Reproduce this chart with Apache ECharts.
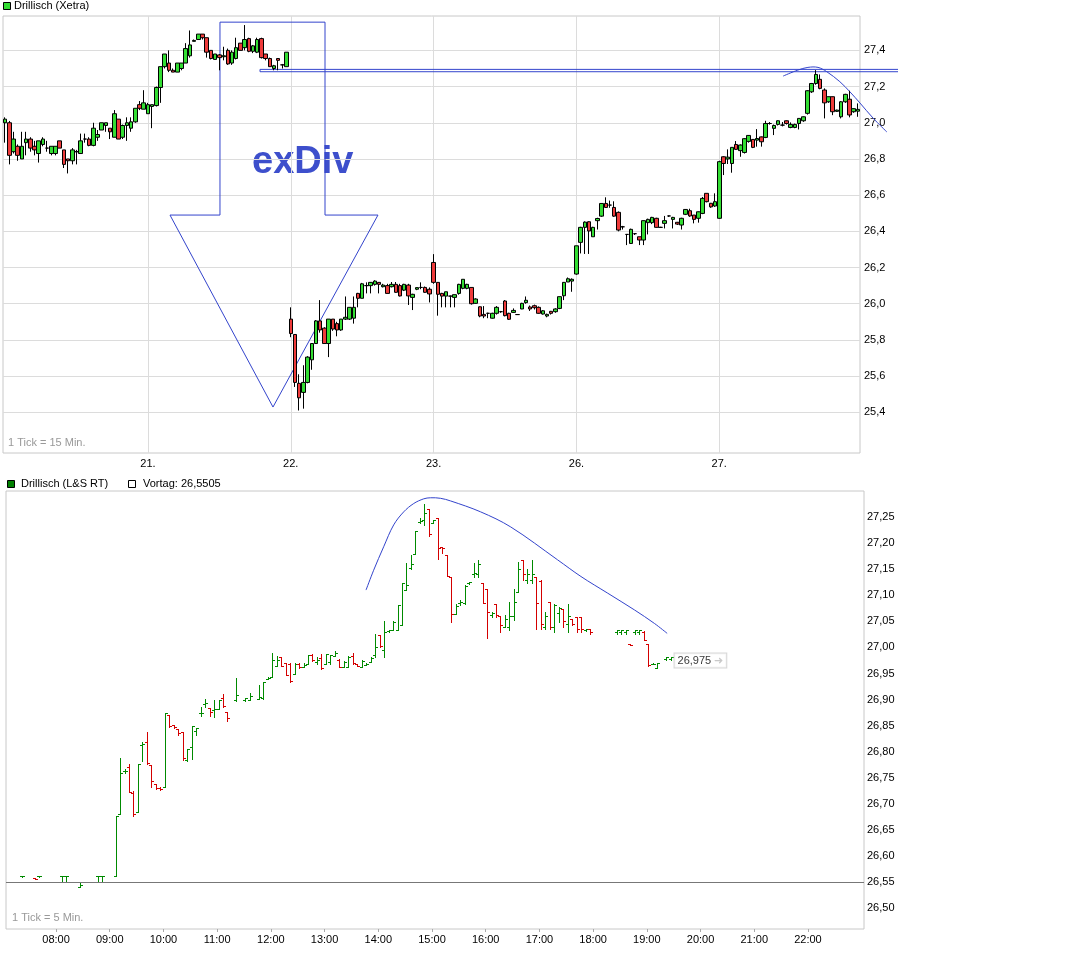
<!DOCTYPE html>
<html>
<head>
<meta charset="utf-8">
<script src="https://cdn.jsdelivr.net/npm/echarts@6/dist/echarts.min.js"></script>
<style>
html,body{margin:0;padding:0;background:#fff;}
#chart{width:1074px;height:977px;}
</style>
</head>
<body>
<div id="chart"></div>
<script>
// ---------- TOP PANEL: Drillisch (Xetra), 15-min candles [open, close, low, high] ----------
const dayLabels = ['21.', '22.', '23.', '26.', '27.'];
const day20 = [
 [27.00,27.02,26.89,27.03],[27.00,26.82,26.77,27.01],[26.84,26.91,26.83,26.95],[26.87,26.82,26.79,26.88],
 [26.80,26.87,26.80,26.95],[26.89,26.91,26.82,26.95],[26.91,26.86,26.84,26.92],[26.87,26.85,26.82,26.90],
 [26.83,26.90,26.78,26.90],[26.88,26.91,26.87,26.92],[26.86,26.86,26.84,26.90],[26.83,26.87,26.82,26.87],
 [26.83,26.87,26.82,26.87],[26.90,26.86,26.86,26.90],[26.85,26.77,26.75,26.85],[26.80,26.79,26.72,26.80],
 [26.79,26.85,26.77,26.86],[26.84,26.84,26.77,26.85],[26.83,26.90,26.83,26.94],[26.91,26.91,26.89,26.94],
 [26.91,26.875,26.87,26.92],[26.875,26.97,26.87,27.00],[26.92,26.935,26.90,26.96],[26.96,27.00,26.96,27.00],
 [26.985,27.00,26.95,27.00],[26.97,26.95,26.91,26.97],[26.92,27.05,26.92,27.07],[27.02,26.91,26.91,27.02],
 [26.92,26.985,26.91,26.99],[26.985,27.00,26.90,27.03],[26.97,27.005,26.95,27.03],[27.005,27.08,27.00,27.08],
 [27.10,27.08,27.07,27.12],[27.075,27.11,27.075,27.18]
];
const day21 = [
 [27.05,27.10,27.05,27.11],[27.09,27.10,26.97,27.10],[27.095,27.195,27.09,27.20],[27.195,27.31,27.11,27.31],
 [27.31,27.38,27.30,27.38],[27.33,27.29,27.28,27.40],[27.29,27.28,27.28,27.30],[27.28,27.33,27.28,27.33],
 [27.30,27.33,27.29,27.33],[27.33,27.41,27.33,27.44],[27.37,27.43,27.36,27.51],[27.45,27.455,27.45,27.46],
 [27.46,27.49,27.46,27.49],[27.49,27.47,27.46,27.49],[27.47,27.39,27.36,27.47],[27.40,27.355,27.35,27.40],
 [27.35,27.38,27.35,27.38],[27.375,27.36,27.29,27.38],[27.365,27.37,27.345,27.42],[27.40,27.325,27.32,27.41],
 [27.33,27.39,27.32,27.40],[27.355,27.415,27.35,27.47],[27.44,27.40,27.40,27.44],[27.415,27.46,27.40,27.54],
 [27.465,27.395,27.39,27.47],[27.395,27.425,27.385,27.43],[27.39,27.46,27.385,27.47],[27.465,27.36,27.355,27.47],
 [27.38,27.355,27.345,27.38],[27.355,27.31,27.31,27.36],[27.30,27.315,27.29,27.32],[27.355,27.345,27.29,27.355],
 [27.32,27.32,27.30,27.325],[27.31,27.39,27.31,27.39]
];
const day22 = [
 [25.915,25.835,25.815,25.98],[25.83,25.565,25.54,25.83],[25.56,25.48,25.41,25.61],[25.51,25.565,25.42,25.66],
 [25.565,25.705,25.56,25.71],[25.69,25.78,25.635,25.78],[25.78,25.905,25.78,25.91],[25.905,25.855,25.84,26.02],
 [25.865,25.78,25.78,25.87],[25.78,25.915,25.705,25.915],[25.915,25.86,25.85,25.915],[25.89,25.855,25.82,25.90],
 [25.855,25.915,25.85,25.915],[25.915,25.925,25.91,26.04],[25.915,25.98,25.91,25.98],[25.92,25.98,25.89,26.04],
 [26.057,26.03,25.98,26.06],[26.03,26.11,26.03,26.115],[26.10,26.10,26.057,26.118],[26.10,26.118,26.057,26.12],
 [26.107,26.125,26.10,26.13],[26.118,26.107,26.057,26.12],[26.094,26.103,26.09,26.11],[26.10,26.057,26.057,26.11],
 [26.094,26.107,26.09,26.12],[26.107,26.063,26.06,26.12],[26.10,26.043,26.04,26.11],[26.075,26.107,26.07,26.11],
 [26.103,26.043,25.993,26.11],[26.035,26.052,25.965,26.055],[26.08,26.089,26.075,26.09],[26.09,26.09,26.08,26.118],
 [26.09,26.063,26.06,26.095],[26.08,26.054,26.007,26.09]
];
const day23 = [
 [26.228,26.118,26.11,26.274],[26.118,26.052,25.934,26.12],[26.057,26.042,25.98,26.06],[26.042,26.066,25.98,26.066],
 [26.042,26.042,25.98,26.045],[26.035,26.05,25.98,26.05],[26.057,26.107,26.05,26.11],[26.085,26.135,26.08,26.135],
 [26.085,26.107,26.08,26.11],[26.09,26.00,25.995,26.09],[26.002,26.026,26.00,26.03],[25.983,25.932,25.925,25.985],
 [25.941,25.932,25.92,25.987],[25.947,25.947,25.92,25.95],[25.92,25.947,25.918,25.95],[25.947,25.98,25.94,25.987],
 [25.956,25.956,25.95,25.96],[26.015,25.934,25.93,26.02],[25.947,25.914,25.91,25.95],[25.952,25.963,25.95,25.974],
 [25.94,25.94,25.94,25.942],[25.971,26.002,25.97,26.005],[26.006,26.019,26.00,26.04],[25.982,25.971,25.96,25.99],
 [25.989,25.978,25.968,25.995],[25.98,25.947,25.945,25.985],[25.943,25.961,25.94,25.965],[25.932,25.941,25.925,25.945],
 [25.958,25.947,25.94,25.96],[25.956,25.971,25.95,25.975],[25.974,26.039,25.97,26.04],[26.044,26.118,26.02,26.12],
 [26.12,26.138,26.12,26.145],[26.125,26.135,26.066,26.14]
];
const day26 = [
 [26.164,26.32,26.16,26.32],[26.339,26.422,26.278,26.425],[26.422,26.451,26.275,26.455],[26.453,26.402,26.275,26.455],
 [26.37,26.422,26.37,26.425],[26.459,26.471,26.41,26.475],[26.484,26.554,26.48,26.555],[26.554,26.532,26.53,26.588],
 [26.545,26.545,26.53,26.57],[26.532,26.484,26.48,26.566],[26.505,26.407,26.40,26.51],[26.425,26.425,26.41,26.43],
 [26.383,26.383,26.324,26.385],[26.333,26.411,26.33,26.415],[26.387,26.387,26.38,26.39],[26.37,26.352,26.324,26.37],
 [26.352,26.459,26.324,26.46],[26.448,26.466,26.383,26.47],[26.448,26.477,26.44,26.48],[26.472,26.422,26.42,26.475],
 [26.422,26.422,26.42,26.425],[26.444,26.459,26.416,26.485],[26.485,26.485,26.48,26.487],[26.466,26.477,26.416,26.48],
 [26.45,26.44,26.435,26.452],[26.435,26.472,26.41,26.475],[26.494,26.521,26.49,26.523],[26.514,26.485,26.48,26.525],
 [26.49,26.466,26.444,26.49],[26.472,26.508,26.448,26.51],[26.499,26.582,26.495,26.59],[26.61,26.564,26.56,26.61],
 [26.555,26.535,26.53,26.557],[26.54,26.564,26.535,26.61]
];
const day27 = [
 [26.472,26.785,26.47,26.79],[26.812,26.775,26.711,26.815],[26.80,26.81,26.772,26.853],[26.775,26.864,26.724,26.865],
 [26.88,26.853,26.85,26.899],[26.846,26.877,26.812,26.88],[26.836,26.912,26.83,26.915],[26.897,26.93,26.89,26.932],
 [26.908,26.864,26.86,26.91],[26.904,26.913,26.868,26.965],[26.922,26.895,26.868,26.924],[26.919,26.996,26.915,27.011],
 [26.996,26.996,26.99,27.004],[26.969,26.985,26.932,26.99],[26.991,27.011,26.985,27.013],[26.987,26.987,26.98,27.004],
 [27.011,26.996,26.99,27.013],[26.974,26.991,26.97,27.002],[26.974,26.991,26.97,26.995],[26.996,27.024,26.963,27.025],
 [27.011,27.033,27.005,27.035],[27.052,27.177,27.045,27.18],[27.171,27.217,27.165,27.22],[27.217,27.267,27.21,27.291],
 [27.24,27.19,27.185,27.267],[27.181,27.11,27.024,27.19],[27.116,27.144,27.11,27.145],[27.144,27.061,27.042,27.145],
 [27.063,27.07,27.06,27.072],[27.033,27.116,27.024,27.12],[27.116,27.157,27.11,27.16],[27.13,27.043,27.03,27.177],
 [27.061,27.078,27.055,27.08],[27.064,27.074,27.033,27.107]
];
const topYTicks = [25.4, 25.6, 25.8, 26.0, 26.2, 26.4, 26.6, 26.8, 27.0, 27.2, 27.4];

// annotations of the top panel, in (bar slot, price) units
const arrowShape = [[39.75,26.49],[51.65,26.49],[51.65,27.556],[76.65,27.556],[76.65,26.49],[89.26,26.49],[64.27,25.429],[39.75,26.49]];
const resistBand = [[213.05,27.295],[61.18,27.295],[61.18,27.282],[213.05,27.282]];
const topArc = [[185.7,27.258],[189.2,27.291],[191.6,27.306],[194.0,27.306],[196.1,27.282],[199.2,27.227],[201.6,27.171],[204.0,27.109],[207.1,27.026],[210.4,26.949]];

// ---------- BOTTOM PANEL: Drillisch (L&S RT), 5-min OHLC [open, close, low, high] ----------
const lsTimes = ['07:20','07:35','07:40','08:05','08:10','08:25','08:45','08:50','09:05','09:10','09:15','09:20','09:25','09:30','09:35','09:40','09:45','09:50','09:55',
 '10:00','10:05','10:10','10:15','10:20','10:25','10:30','10:35','10:40','10:45','10:50','10:55','11:00','11:05','11:10','11:20','11:30','11:35','11:45','11:50','11:55',
 '12:00','12:05','12:10','12:15','12:20','12:25','12:30','12:35','12:40','12:45','12:50','12:55','13:00','13:05','13:10','13:15','13:20','13:25','13:30','13:35','13:40','13:45','13:50','13:55',
 '14:00','14:05','14:10','14:15','14:20','14:25','14:30','14:35','14:40','14:45','14:50','14:55','15:00','15:05','15:10','15:15','15:20','15:25','15:30','15:35','15:40','15:45','15:50','15:55',
 '16:00','16:05','16:10','16:15','16:20','16:25','16:30','16:35','16:40','16:45','16:50','16:55','17:00','17:05','17:10','17:15','17:20','17:25','17:30','17:35','17:40','17:45','17:50','17:55',
 '18:25','18:30','18:35','18:40','18:45','18:50','18:55','19:00','19:05','19:10','19:20','19:25'];
const lsOHLC = [
 [26.561,26.561,26.560,26.562],[26.558,26.556,26.556,26.558],[26.561,26.561,26.560,26.562],[26.561,26.561,26.552,26.561],
 [26.561,26.561,26.552,26.561],[26.541,26.545,26.541,26.551],[26.561,26.561,26.552,26.561],[26.561,26.561,26.552,26.561],
 [26.561,26.677,26.561,26.677],[26.680,26.760,26.680,26.787],[26.763,26.763,26.760,26.766],[26.771,26.723,26.723,26.776],
 [26.720,26.680,26.677,26.724],[26.685,26.776,26.685,26.776],[26.813,26.815,26.783,26.819],[26.818,26.778,26.776,26.838],
 [26.774,26.743,26.733,26.774],[26.738,26.731,26.729,26.738],[26.730,26.728,26.727,26.732],
 [26.732,26.875,26.732,26.875],[26.870,26.850,26.848,26.870],[26.851,26.847,26.846,26.852],[26.843,26.836,26.832,26.843],
 [26.838,26.787,26.785,26.838],[26.785,26.806,26.783,26.806],[26.810,26.849,26.786,26.849],[26.840,26.845,26.832,26.845],
 [26.874,26.875,26.868,26.886],[26.892,26.893,26.886,26.902],[26.883,26.877,26.868,26.883],[26.880,26.882,26.867,26.900],
 [26.881,26.899,26.881,26.899],[26.903,26.888,26.886,26.911],[26.876,26.865,26.859,26.876],[26.900,26.909,26.898,26.941],
 [26.900,26.903,26.898,26.903],[26.899,26.906,26.899,26.912],[26.902,26.905,26.902,26.928],[26.903,26.934,26.902,26.934],
 [26.940,26.942,26.939,26.943],
 [26.944,26.975,26.944,26.990],[26.965,26.976,26.965,26.983],[26.982,26.965,26.964,26.982],[26.970,26.947,26.947,26.970],
 [26.968,26.936,26.934,26.970],[26.950,26.968,26.950,26.970],[26.968,26.962,26.961,26.970],[26.963,26.967,26.962,26.970],
 [26.968,26.985,26.968,26.985],[26.985,26.975,26.974,26.987],[26.973,26.975,26.969,26.982],[26.980,26.960,26.959,26.987],
 [26.969,26.987,26.968,26.987],[26.973,26.985,26.968,26.985],[26.984,26.990,26.984,26.993],[26.976,26.962,26.962,26.978],
 [26.962,26.972,26.962,26.974],[26.962,26.982,26.962,26.983],[26.984,26.970,26.969,26.990],[26.968,26.965,26.965,26.968],
 [26.962,26.974,26.962,26.976],[26.966,26.969,26.966,26.971],[26.973,26.980,26.972,26.982],[26.985,27.000,26.981,27.026],
 [27.024,27.002,27.001,27.024],[26.995,27.030,26.981,27.051],[27.031,27.034,27.030,27.034],[27.034,27.048,27.033,27.050],
 [27.034,27.081,27.033,27.081],[27.043,27.123,27.043,27.123],[27.110,27.120,27.110,27.162],[27.152,27.160,27.150,27.177],
 [27.180,27.224,27.180,27.224],[27.240,27.243,27.238,27.248],[27.245,27.258,27.235,27.275],[27.265,27.218,27.214,27.265],
 [27.238,27.245,27.238,27.245],[27.248,27.190,27.169,27.248],[27.192,27.190,27.182,27.192],[27.177,27.137,27.137,27.177],
 [27.136,27.065,27.048,27.136],[27.065,27.080,27.065,27.084],[27.085,27.088,27.081,27.091],[27.085,27.118,27.084,27.120],
 [27.123,27.125,27.121,27.126],[27.140,27.142,27.136,27.161],[27.140,27.160,27.136,27.168],[27.123,27.086,27.086,27.123],
 [27.113,27.068,27.019,27.113],[27.062,27.066,27.059,27.068],[27.084,27.063,27.059,27.084],[27.060,27.043,27.030,27.060],
 [27.040,27.055,27.040,27.062],[27.040,27.060,27.033,27.088],[27.060,27.088,27.052,27.113],[27.107,27.150,27.107,27.164],
 [27.168,27.140,27.129,27.168],[27.130,27.141,27.123,27.150],[27.130,27.140,27.123,27.168],[27.136,27.085,27.036,27.136],
 [27.128,27.045,27.036,27.130],[27.040,27.060,27.036,27.068],[27.088,27.040,27.036,27.088],[27.040,27.082,27.030,27.084],
 [27.066,27.075,27.049,27.078],[27.073,27.050,27.040,27.073],[27.044,27.060,27.030,27.084],[27.055,27.045,27.043,27.055],
 [27.059,27.035,27.030,27.059],[27.058,27.035,27.030,27.059],[27.033,27.035,27.032,27.036],[27.036,27.030,27.026,27.036],
 [27.030,27.033,27.026,27.033],[27.030,27.033,27.026,27.033],[27.030,27.033,27.026,27.033],[27.007,27.005,27.005,27.007],
 [27.030,27.033,27.026,27.033],[27.030,27.033,27.026,27.033],[27.030,27.015,27.015,27.032],[27.006,26.966,26.964,27.006],
 [26.968,26.969,26.968,26.970],[26.960,26.970,26.960,26.970],[26.978,26.981,26.976,26.981],[26.978,26.981,26.976,26.981]
];
const lastPrice = 26.975;
const prevClose = 26.5505;
const hourLabels = ['08:00','09:00','10:00','11:00','12:00','13:00','14:00','15:00','16:00','17:00','18:00','19:00','20:00','21:00','22:00'];
const bottomYTicks = [26.50,26.55,26.60,26.65,26.70,26.75,26.80,26.85,26.90,26.95,27.00,27.05,27.10,27.15,27.20,27.25];
const bottomArc = [[826.3,27.110],[834.8,27.148],[846.0,27.193],[857.2,27.235],[868.4,27.260],[879.6,27.276],[890.8,27.285],[898.3,27.287],[909.5,27.286],[920.7,27.281],[954.3,27.260],[988.0,27.231],[1040.3,27.168],[1066.4,27.136],[1096.3,27.104],[1126.1,27.072],[1148.5,27.046],[1162.7,27.027]];

// ---------- build ----------
const FONT = '"Liberation Sans", Arial, sans-serif';
const BLUE = '#3344cc';
const UP = '#33dd33', DOWN = '#ee3b3b';
const LS_UP = '#008a00', LS_DOWN = '#d40000';

const candles = [].concat(day20, day21, day22, day23, day26, day27);
const slotsPerDay = day20.length;
const days = ['20', '21', '22', '23', '26', '27'];
const categories = candles.map((_, i) => days[Math.floor(i / slotsPerDay)] + '-' + (i % slotsPerDay));
const dayTickPos = dayLabels.map((_, k) => (k + 1) * slotsPerDay + 0.5);

const toMin = s => { const p = s.split(':'); return +p[0] * 60 + +p[1]; };
const hourTicks = hourLabels.map(toMin);
const lsData = lsTimes.map((t, i) => [toMin(t)].concat(lsOHLC[i]));
const lastTime = toMin(lsTimes[lsTimes.length - 1]);
const BAR_OFF = 1.5;

function renderOHLC(params, api) {
  const t = api.value(0) + BAR_OFF;
  const o = api.value(1), c = api.value(2), l = api.value(3), h = api.value(4);
  const x = Math.round(api.coord([t, o])[0]);
  const yo = Math.round(api.coord([t, o])[1]);
  const yc = Math.round(api.coord([t, c])[1]);
  const yl = Math.round(api.coord([t, l])[1]);
  const yh = Math.round(api.coord([t, h])[1]);
  const col = c >= o ? LS_UP : LS_DOWN;
  return {
    type: 'group',
    children: [
      {type: 'rect', shape: {x: x, y: yh, width: 1, height: Math.max(1, yl - yh + 1)}, style: {fill: col}},
      {type: 'rect', shape: {x: x - 2, y: yo, width: 2, height: 1}, style: {fill: col}},
      {type: 'rect', shape: {x: x + 1, y: yc, width: 2, height: 1}, style: {fill: col}}
    ]
  };
}

// annotation drawn through the axes' own scales (api.coord), not clipped to the plot
function annotation(points, xAxisIndex, yAxisIndex, smooth) {
  return {
    type: 'custom', xAxisIndex: xAxisIndex, yAxisIndex: yAxisIndex, silent: true, clip: false,
    data: [points[0]],
    renderItem: (params, api) => ({
      type: 'polyline',
      shape: {points: points.map(p => api.coord(p)), smooth: smooth || 0},
      style: {stroke: BLUE, fill: null, lineWidth: 1}
    })
  };
}

const chart = echarts.init(document.getElementById('chart'), null, {renderer: 'canvas', width: 1074, height: 977});
const txt = {fontFamily: FONT, fontSize: 11, color: '#000'};

chart.setOption({
  animation: false,
  backgroundColor: '#fff',
  textStyle: {fontFamily: FONT},
  grid: [
    {left: 3, right: 214, top: 16, bottom: 524, show: true, borderColor: '#c8c8c8', borderWidth: 1, backgroundColor: 'transparent'},
    {left: 6, right: 210, top: 491, bottom: 48, show: true, borderColor: '#c8c8c8', borderWidth: 1, backgroundColor: 'transparent'}
  ],
  xAxis: [
    {type: 'category', gridIndex: 0, data: categories, show: false, boundaryGap: true},
    {type: 'value', gridIndex: 0, position: 'bottom', min: 0, max: candles.length,
      axisLine: {show: false},
      axisTick: {show: false, customValues: dayTickPos},
      axisLabel: {customValues: dayTickPos, margin: 5, ...txt,
        formatter: v => { const k = dayTickPos.indexOf(v); return k >= 0 ? dayLabels[k] : ''; }},
      splitLine: {show: true, lineStyle: {color: '#dcdcdc', width: 1}}},
    {type: 'value', gridIndex: 1, position: 'bottom', min: 424.1, max: 1382.6,
      axisLine: {show: false},
      axisTick: {show: true, customValues: hourTicks, length: 3, lineStyle: {color: '#aaa'}},
      axisLabel: {customValues: hourTicks, margin: 5, ...txt,
        formatter: v => { const k = hourTicks.indexOf(v); return k >= 0 ? hourLabels[k] : ''; }},
      splitLine: {show: false}}
  ],
  yAxis: [
    {type: 'value', gridIndex: 0, position: 'right', min: 25.175, max: 27.59,
      axisLine: {show: false},
      axisTick: {show: false, customValues: topYTicks},
      axisLabel: {customValues: topYTicks, margin: 4, ...txt, formatter: v => v.toFixed(1).replace('.', ',')},
      splitLine: {show: true, lineStyle: {color: '#dcdcdc', width: 1}}},
    {type: 'value', gridIndex: 1, position: 'right', min: 26.46, max: 27.30,
      axisLine: {show: false},
      axisTick: {show: false, customValues: bottomYTicks},
      axisLabel: {customValues: bottomYTicks, margin: 3, ...txt, formatter: v => v.toFixed(2).replace('.', ',')},
      splitLine: {show: false}}
  ],
  series: [
    {
      type: 'candlestick', xAxisIndex: 0, yAxisIndex: 0, data: candles, barWidth: 4,
      itemStyle: {color: UP, color0: DOWN, borderColor: '#000', borderColor0: '#000', borderColorDoji: '#000', borderWidth: 1}
    },
    annotation(arrowShape, 1, 0, 0),
    annotation(resistBand, 1, 0, 0),
    annotation(topArc, 1, 0, 0.35),
    {
      type: 'custom', xAxisIndex: 2, yAxisIndex: 1, data: lsData, renderItem: renderOHLC,
      encode: {x: 0, y: [1, 2, 3, 4]}, silent: true, clip: false,
      markLine: {silent: true, symbol: 'none', label: {show: false},
        lineStyle: {color: '#777', width: 1, type: 'solid'}, data: [{yAxis: prevClose}]}
    },
    annotation(bottomArc, 2, 1, 0.35),
    {type: 'scatter', xAxisIndex: 2, yAxisIndex: 1, data: [[lastTime + BAR_OFF, lastPrice]], symbolSize: 0, silent: true,
      label: {show: true, position: 'right', distance: 4, backgroundColor: '#fff', borderColor: '#ccc', borderWidth: 1,
        padding: [2, 3, 1, 3], fontFamily: FONT, fontSize: 11, color: '#000',
        formatter: () => lastPrice.toFixed(3).replace('.', ',') + ' {a|➜}',
        rich: {a: {color: '#bbb', fontSize: 11, fontFamily: FONT}}}}
  ],
  graphic: [
    {type: 'rect', shape: {x: 3.5, y: 2.5, width: 7, height: 7}, style: {fill: UP, stroke: '#000', lineWidth: 1}},
    {type: 'text', x: 14, y: 6, style: {text: 'Drillisch (Xetra)', font: '11px ' + FONT, fill: '#000', verticalAlign: 'middle'}},
    {type: 'text', x: 8, y: 443, style: {text: '1 Tick = 15 Min.', font: '11px ' + FONT, fill: '#999', verticalAlign: 'middle'}},
    {type: 'text', x: 252, y: 163, style: {text: 'exDiv', font: 'bold 38px ' + FONT, fill: '#3d4fcc', verticalAlign: 'middle'}},
    {type: 'rect', shape: {x: 7.5, y: 480.5, width: 7, height: 7}, style: {fill: '#008000', stroke: '#000', lineWidth: 1}},
    {type: 'text', x: 21, y: 484, style: {text: 'Drillisch (L&S RT)', font: '11px ' + FONT, fill: '#000', verticalAlign: 'middle'}},
    {type: 'rect', shape: {x: 128.5, y: 480.5, width: 7, height: 7}, style: {fill: '#fff', stroke: '#000', lineWidth: 1}},
    {type: 'text', x: 143, y: 484, style: {text: 'Vortag: ' + String(prevClose).replace('.', ','), font: '11px ' + FONT, fill: '#000', verticalAlign: 'middle'}},
    {type: 'text', x: 12, y: 918, style: {text: '1 Tick = 5 Min.', font: '11px ' + FONT, fill: '#999', verticalAlign: 'middle'}}
  ]
});
</script>
</body>
</html>
